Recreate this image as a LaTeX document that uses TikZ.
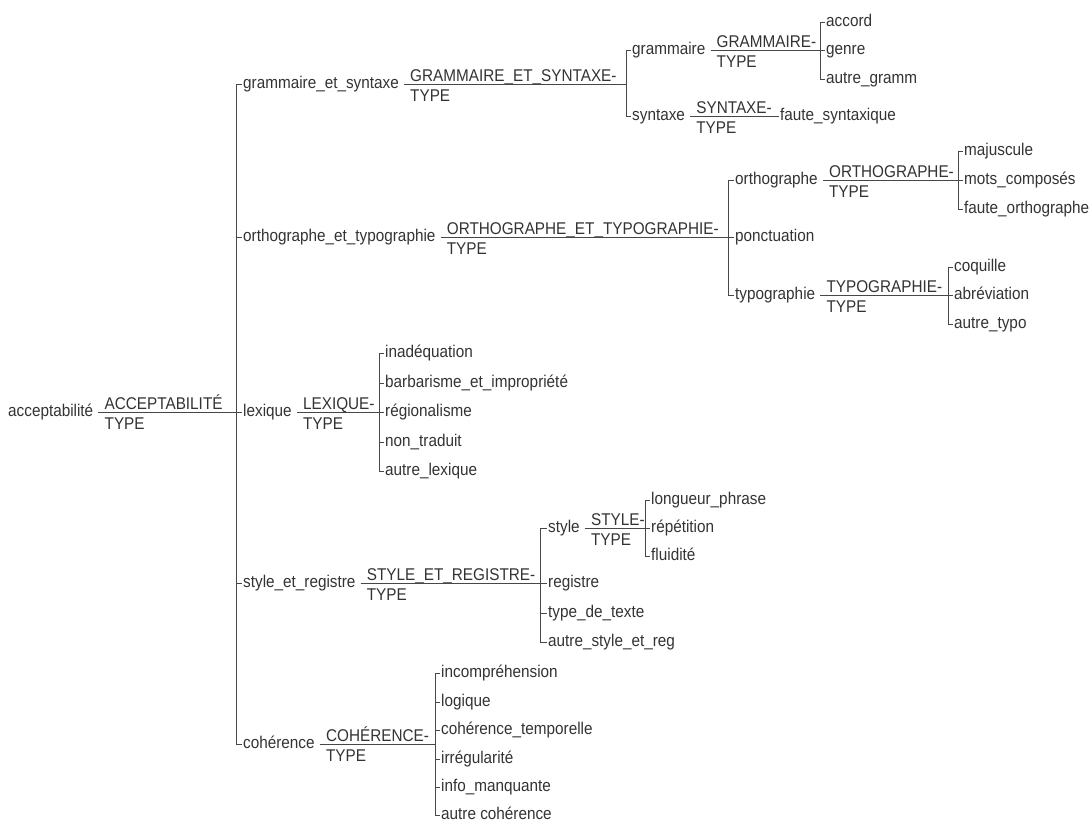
\documentclass[tikz,border=0pt]{standalone}
\usepackage{fontspec}
\setmainfont{Liberation Sans}[FakeStretch=0.9]
% type line: the type name above a rule, TYPE below it, rule runs to a target
\newcommand\tyline[3]{%
  \node[tname] (#1-t) at ([xshift=11pt,yshift=2.5pt]#1.east) {#2};
  \node[tname] (#1-b) at ([xshift=11pt,yshift=-17.5pt]#1.east) {TYPE};
  \draw[wire] ([xshift=5pt]#1.east) -- (#3);}
% bracket: vertical rule at a junction from the first to the last child
\newcommand\mkbracket[3]{%
  \draw[wire] (#2.west -| #1) -- (#3.west -| #1);}
\begin{document}
\begin{tikzpicture}[x=1pt,y=-1pt,
  wire/.style={draw=black!72,line width=0.9pt},
  item/.style={anchor=west,inner sep=0pt,text height=12pt,text depth=3.5pt,
    text=black!80,font=\fontsize{17}{20}\selectfont},
  tname/.style={anchor=base west,inner sep=0pt,text=black!80,
    font=\fontsize{17}{20}\selectfont},
]
\useasboundingbox (0,0) rectangle (1091,825);

% root
\node[item] (root) at (8,412) {acceptabilité};
\coordinate (j0) at (236,412);
\tyline{root}{ACCEPTABILITÉ}{j0}

% first level
\node[item] (gs) at (243,84) {grammaire\_et\_syntaxe};
\node[item] (ot) at (243,237) {orthographe\_et\_typographie};
\node[item] (lx) at (243,412) {lexique};
\node[item] (sr) at (243,583) {style\_et\_registre};
\node[item] (co) at (243,744) {cohérence};
\mkbracket{j0}{gs}{co}
\foreach \c in {gs,ot,lx,sr,co} \draw[wire] (\c.west -| j0) -- ([xshift=-1.5pt]\c.west);

% grammaire et syntaxe
\coordinate (j1) at (626,84);
\tyline{gs}{GRAMMAIRE\_ET\_SYNTAXE-}{j1}
\node[item] (gr) at (632,50) {grammaire};
\node[item] (sy) at (632,116) {syntaxe};
\mkbracket{j1}{gr}{sy}
\foreach \c in {gr,sy} \draw[wire] (\c.west -| j1) -- ([xshift=-1.5pt]\c.west);

\coordinate (j11) at (820,50);
\tyline{gr}{GRAMMAIRE-}{j11}
\node[item] (g1) at (826,22) {accord};
\node[item] (g2) at (826,50) {genre};
\node[item] (g3) at (826,79) {autre\_gramm};
\mkbracket{j11}{g1}{g3}
\foreach \c in {g1,g2,g3} \draw[wire] (\c.west -| j11) -- ([xshift=-1.5pt]\c.west);

\node[item] (fs) at (780,116) {faute\_syntaxique};
\coordinate (jfs) at ([xshift=-1.5pt]fs.west);
\tyline{sy}{SYNTAXE-}{jfs}

% orthographe et typographie
\coordinate (j2) at (728,237);
\tyline{ot}{ORTHOGRAPHE\_ET\_TYPOGRAPHIE-}{j2}
\node[item] (or) at (735,180) {orthographe};
\node[item] (pc) at (735,237) {ponctuation};
\node[item] (ty) at (735,295) {typographie};
\mkbracket{j2}{or}{ty}
\foreach \c in {or,pc,ty} \draw[wire] (\c.west -| j2) -- ([xshift=-1.5pt]\c.west);

\coordinate (j21) at (958,180);
\tyline{or}{ORTHOGRAPHE-}{j21}
\node[item] (o1) at (964,151) {majuscule};
\node[item] (o2) at (964,180) {mots\_composés};
\node[item] (o3) at (964,209) {faute\_orthographe};
\mkbracket{j21}{o1}{o3}
\foreach \c in {o1,o2,o3} \draw[wire] (\c.west -| j21) -- ([xshift=-1.5pt]\c.west);

\coordinate (j22) at (948,295);
\tyline{ty}{TYPOGRAPHIE-}{j22}
\node[item] (t1) at (954,267) {coquille};
\node[item] (t2) at (954,295) {abréviation};
\node[item] (t3) at (954,324) {autre\_typo};
\mkbracket{j22}{t1}{t3}
\foreach \c in {t1,t2,t3} \draw[wire] (\c.west -| j22) -- ([xshift=-1.5pt]\c.west);

% lexique
\coordinate (j3) at (379,412);
\tyline{lx}{LEXIQUE-}{j3}
\node[item] (l1) at (385,353) {inadéquation};
\node[item] (l2) at (385,383) {barbarisme\_et\_impropriété};
\node[item] (l3) at (385,412) {régionalisme};
\node[item] (l4) at (385,442) {non\_traduit};
\node[item] (l5) at (385,471) {autre\_lexique};
\mkbracket{j3}{l1}{l5}
\foreach \c in {l1,l2,l3,l4,l5} \draw[wire] (\c.west -| j3) -- ([xshift=-1.5pt]\c.west);

% style et registre
\coordinate (j4) at (540,583);
\tyline{sr}{STYLE\_ET\_REGISTRE-}{j4}
\node[item] (st) at (548,528) {style};
\node[item] (rg) at (548,583) {registre};
\node[item] (td) at (548,613) {type\_de\_texte};
\node[item] (as) at (548,642) {autre\_style\_et\_reg};
\mkbracket{j4}{st}{as}
\foreach \c in {st,rg,td,as} \draw[wire] (\c.west -| j4) -- ([xshift=-1.5pt]\c.west);

\coordinate (j41) at (645,528);
\tyline{st}{STYLE-}{j41}
\node[item] (s1) at (651,500) {longueur\_phrase};
\node[item] (s2) at (651,528) {répétition};
\node[item] (s3) at (651,556) {fluidité};
\mkbracket{j41}{s1}{s3}
\foreach \c in {s1,s2,s3} \draw[wire] (\c.west -| j41) -- ([xshift=-1.5pt]\c.west);

% cohérence
\coordinate (j5) at (435,744);
\tyline{co}{COHÉRENCE-}{j5}
\node[item] (c1) at (441,673) {incompréhension};
\node[item] (c2) at (441,702) {logique};
\node[item] (c3) at (441,730) {cohérence\_temporelle};
\node[item] (c4) at (441,759) {irrégularité};
\node[item] (c5) at (441,787) {info\_manquante};
\node[item] (c6) at (441,815) {autre cohérence};
\mkbracket{j5}{c1}{c6}
\foreach \c in {c1,c2,c3,c4,c5,c6} \draw[wire] (\c.west -| j5) -- ([xshift=-1.5pt]\c.west);
\end{tikzpicture}
\end{document}
